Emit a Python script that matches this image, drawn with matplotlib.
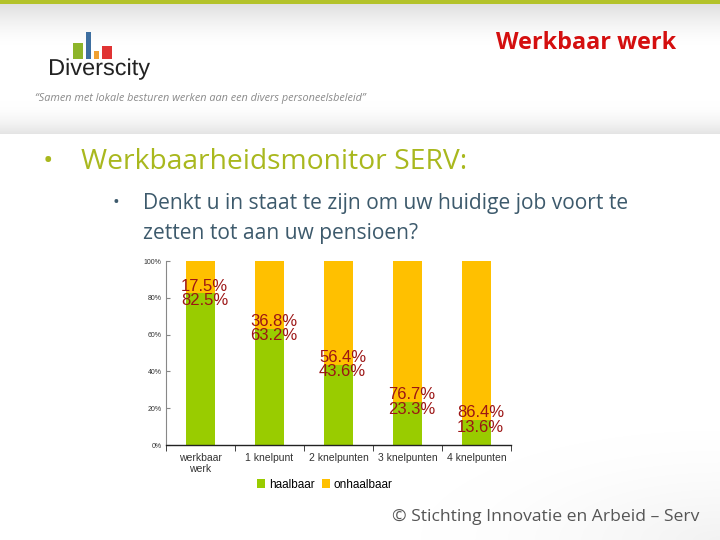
import numpy as np
import matplotlib
matplotlib.use("Agg")
import matplotlib.pyplot as plt
from matplotlib.patches import Rectangle, PathPatch
from matplotlib.textpath import TextPath
from matplotlib.font_manager import FontProperties
from matplotlib.transforms import Affine2D

categories = ["werkbaar\nwerk", "1 knelpunt", "2 knelpunten", "3 knelpunten", "4 knelpunten"]
haalbaar = [82.5, 63.2, 43.6, 23.3, 13.6]
onhaalbaar = [17.5, 36.8, 56.4, 76.7, 86.4]
yticks = [0, 20, 40, 60, 80, 100]

W, H = 720, 540
fig = plt.figure(figsize=(7.2, 5.4), dpi=100)


def px(x, y):
    return x / W, 1 - y / H


# slide background
bg = fig.add_axes([0, 0, 1, 1], zorder=-10)
img = np.ones((H, W, 3))
rows = np.arange(H)
shade = np.zeros(H)
top = (rows >= 4) & (rows < 45)
shade[top] = 0.12 * (1 - (rows[top] - 4) / 41) ** 1.5
bot = (rows >= 100) & (rows < 134)
shade[bot] = 0.11 * ((rows[bot] - 100) / 34) ** 2
img -= shade[:, None, None]
yy, xx = np.mgrid[0:H, 0:W]
corner = np.clip(1 - np.hypot((xx - W) / 300, (yy - H) / 110), 0, 1)
img -= 0.05 * corner[:, :, None] ** 1.5
img[0:4] = np.array([179, 194, 42]) / 255
bg.imshow(img, extent=[0, W, H, 0], aspect="auto")
bg.set_xlim(0, W)
bg.set_ylim(H, 0)
bg.axis("off")

# logo
for (x0, y0, w, c) in [(73, 43, 10, "#8db52a"), (86, 32, 5, "#3e6fa0"),
                       (94, 51, 5, "#f0a030"), (102, 46, 10, "#e03434")]:
    bg.add_patch(Rectangle((x0, y0), w, 59 - y0, color=c, lw=0))
tp = TextPath((0, 0), "Diverscity", size=23, prop=FontProperties(family="Liberation Sans"))
ext = tp.get_extents()
sx = 100 / ext.width
tr = Affine2D().translate(-ext.x0, 0).scale(sx, -1.0).translate(50, 75)
bg.add_patch(PathPatch(tr.transform_path(tp), color="#222222", lw=0))
fig.text(*px(35, 99), "\u201cSamen met lokale besturen werken aan een divers personeelsbeleid\u201d",
         family="Open Sans", style="italic", fontsize=7.85, color="#8a8a8a", va="center")
fig.text(*px(676, 43), "Werkbaar werk", family="Open Sans", weight="bold",
         fontsize=16.8, color="#d40f0f", va="center", ha="right")

# bullets
fig.text(*px(43, 162), "\u2022", fontsize=20, color="#a9b81e", va="center", family="Open Sans")
fig.text(*px(81, 162), "Werkbaarheidsmonitor SERV:", family="Open Sans",
         fontsize=20.3, color="#a9b81e", va="center")
fig.text(*px(112, 203), "\u2022", fontsize=13, color="#3d5a6c", va="center", family="Open Sans")
fig.text(*px(143, 203), "Denkt u in staat te zijn om uw huidige job voort te",
         family="Open Sans", fontsize=15.15, color="#3d5a6c", va="center")
fig.text(*px(143, 233), "zetten tot aan uw pensioen?",
         family="Open Sans", fontsize=15.15, color="#3d5a6c", va="center")

# chart
l, b = px(166, 445)
r, t = px(511, 261)
ax = fig.add_axes([l, b, r - l, t - b])
ax.patch.set_alpha(0)
x = np.arange(len(categories))
ax.bar(x, haalbaar, width=0.42, color="#99cc00", label="haalbaar")
ax.bar(x, onhaalbaar, bottom=haalbaar, width=0.42, color="#ffc000", label="onhaalbaar")
for i in range(len(categories)):
    ax.text(x[i] + 0.06, haalbaar[i], f"{onhaalbaar[i]:.1f}%\n{haalbaar[i]:.1f}%",
            ha="center", va="center", fontsize=12, color="#9c1515",
            family="Liberation Sans", linespacing=0.95)
ax.set_xlim(-0.5, len(categories) - 0.5)
ax.set_ylim(0, 100)
ax.set_yticks(yticks)
ax.set_yticklabels([f"{v}%" for v in yticks], fontsize=5, family="Liberation Sans", color="#333333")
ax.set_xticks(x)
ax.set_xticklabels(categories, fontsize=7.5, family="Liberation Sans", color="#333333",
                   linespacing=1.1)
ax.tick_params(axis="x", length=0, pad=6)
ax.set_xticks(np.arange(-0.5, len(categories)), minor=True)
ax.tick_params(axis="x", which="minor", length=4, direction="out", color="#222222")
ax.tick_params(axis="y", length=3, direction="in", color="#888888", pad=3)
for s in ["top", "right"]:
    ax.spines[s].set_visible(False)
ax.spines["left"].set_color("#888888")
ax.spines["bottom"].set_color("#222222")
ax.spines["bottom"].set_linewidth(1.0)
ax.legend(loc="center", bbox_to_anchor=(0.46, -0.215), ncol=2, frameon=False,
          prop={"family": "Liberation Sans", "size": 8.5}, handlelength=0.7,
          handleheight=0.7, handletextpad=0.3, columnspacing=0.6)

fig.text(*px(392, 517), "\u00a9 Stichting Innovatie en Arbeid \u2013 Serv", family="Open Sans",
         fontsize=12.6, color="#555555", va="center", ha="left")

fig.savefig("out.png", dpi=100)
